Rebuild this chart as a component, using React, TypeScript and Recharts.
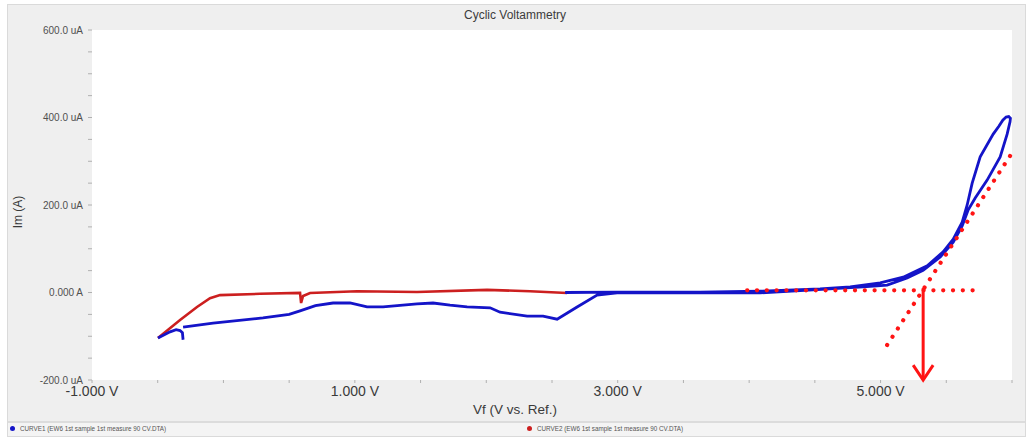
import React from 'react';
import { LineChart, Line, XAxis, YAxis, CartesianGrid } from 'recharts';

// ---- axis ticks ----
const xTicks = [-1, -0.5, 0, 0.5, 1, 1.5, 2, 2.5, 3, 3.5, 4, 4.5, 5, 5.5, 6];
const xLabeled = [-1, 1, 3, 5];
const yTicks = [-200, -150, -100, -50, 0, 50, 100, 150, 200, 250, 300, 350, 400, 450, 500, 550, 600];
const yLabels: Record<string, string> = { '-200': '-200.0 uA', '0': '0.000 A', '200': '200.0 uA', '400': '400.0 uA', '600': '600.0 uA' };

// ---- CURVE1 (blue): start hook ----
const blueHookV = [-0.307, -0.312, -0.330, -0.360, -0.406, -0.498];
const blueHookI = [-108, -92, -87, -85, -90, -104];

// ---- CURVE1 (blue): main sweep ----
const blueV = [
  -0.307, -0.079, 0.301, 0.500, 0.583, 0.700, 0.834, 0.963, 1.093, 1.215, 1.473, 1.595, 1.724, 1.854,
  2.029, 2.105, 2.311, 2.432, 2.539, 2.691, 2.843, 2.995, 3.627, 4.084, 4.487, 4.868, 5.050, 5.202,
  5.324, 5.454, 5.553, 5.621, 5.667, 5.720, 5.811, 5.910, 5.963, 5.985, 5.988,
  5.975, 5.955, 5.930, 5.900, 5.857, 5.758, 5.697, 5.659, 5.621, 5.553, 5.476, 5.355, 5.172, 4.997, 4.769, 4.540,
  4.084, 3.627, 2.995, 2.600,
];
const blueI = [
  -79, -70, -58, -50, -42, -30, -24, -24, -33, -33, -26, -24, -29, -33,
  -35, -45, -54, -54, -61, -33, -6, -1, -1, -1, 6, 13, 17, 33,
  51, 81, 115, 152, 189, 216, 257, 310, 362, 390, 398,
  402, 401, 394, 380, 362, 310, 250, 200, 161, 122, 93, 61, 35, 22, 13, 8,
  3, 1, 1, 0,
];

// ---- CURVE2 (red) ----
const redV = [-0.498, -0.330, -0.201, -0.102, -0.026, 0.279, 0.583, 0.591, 0.606, 0.659, 1.017, 1.473, 2.006, 2.333, 2.615];
const redI = [-104, -63, -33, -13, -6, -3, -1, -24, -8, -1, 3, 1, 6, 3, -1];

// ---- annotation (onset construction) ----
const baseLineV = [3.985, 5.773];
const baseLineI = [5, 5];
const tangentV = [5.05, 6.0];
const tangentI = [-120, 319];
const arrowShaftV = [5.324, 5.324];
const arrowShaftI = [10, -200];
const arrowHeadV = [5.248, 5.324, 5.400];
const arrowHeadI = [-166, -200, -166];

const zip = (v: number[], i: number[]) => v.map((x, k) => ({ v: x, i: i[k] }));

const blueHook = zip(blueHookV, blueHookI);
const blueMain = zip(blueV, blueI);
const red = zip(redV, redI);
const baseLine = zip(baseLineV, baseLineI);
const tangent = zip(tangentV, tangentI);
const arrowShaft = zip(arrowShaftV, arrowShaftI);
const arrowHead = zip(arrowHeadV, arrowHeadI);

const FONT = '"Liberation Sans", Arial, sans-serif';
const BLUE = '#1414c8';
const RED = '#cc1f1f';
const ANN = '#ff1414';

export default function App() {
  return (
    <div style={{ position: 'absolute', left: 0, top: 0, width: 1030, height: 441, background: '#ffffff', fontFamily: FONT, overflow: 'hidden' }}>
      {/* panel */}
      <div style={{ position: 'absolute', left: 7, top: 4, width: 1019, height: 433, background: '#efefef', border: '1px solid #dadada', boxSizing: 'border-box' }} />
      {/* title */}
      <div style={{ position: 'absolute', left: 0, top: 8, width: 1030, textAlign: 'center', fontSize: 12, color: '#3c3c3c' }}>Cyclic Voltammetry</div>
      {/* legend strip */}
      <div style={{ position: 'absolute', left: 8, top: 421, width: 1017, height: 15, background: '#f4f4f4', borderTop: '2px solid #dcdcdc', boxSizing: 'border-box' }} />
      <div style={{ position: 'absolute', left: 0, top: 0, width: 1030, height: 441 }}>
        <LineChart width={1030} height={441} margin={{ top: 30, right: 18, bottom: 31, left: 12 }}>
          <CartesianGrid horizontal={false} vertical={false} fill="#ffffff" stroke="none" />
          <XAxis
            dataKey="v"
            type="number"
            domain={[-1, 6]}
            ticks={xTicks}
            interval={0}
            height={30}
            axisLine={false}
            tickSize={3}
            tickMargin={3}
            tickLine={{ stroke: '#b0b0b0' }}
            tick={{ fontSize: 14, fill: '#3a3a3a', fontFamily: FONT }}
            tickFormatter={(x: number) => (xLabeled.includes(x) ? `${x.toFixed(3)} V` : '')}
          />
          <YAxis
            dataKey="i"
            type="number"
            domain={[-200, 600]}
            ticks={yTicks}
            interval={0}
            width={80}
            axisLine={false}
            tickSize={4}
            tickMargin={5}
            tickLine={{ stroke: '#b0b0b0' }}
            tick={{ fontSize: 10, fill: '#505050', fontFamily: FONT }}
            tickFormatter={(y: number) => yLabels[String(y)] ?? ''}
          />
          <Line data={red} dataKey="i" type="linear" stroke={RED} strokeWidth={2.6} dot={false} isAnimationActive={false} />
          <Line data={blueHook} dataKey="i" type="linear" stroke={BLUE} strokeWidth={2.8} dot={false} isAnimationActive={false} />
          <Line data={blueMain} dataKey="i" type="linear" stroke={BLUE} strokeWidth={2.8} dot={false} isAnimationActive={false} />
          <Line data={baseLine} dataKey="i" type="linear" stroke={ANN} strokeWidth={4.2} strokeDasharray="0.1 9.7" strokeLinecap="round" dot={false} isAnimationActive={false} />
          <Line data={tangent} dataKey="i" type="linear" stroke={ANN} strokeWidth={4.2} strokeDasharray="0.1 9.7" strokeLinecap="round" dot={false} isAnimationActive={false} />
          <Line data={arrowShaft} dataKey="i" type="linear" stroke={ANN} strokeWidth={3} dot={false} isAnimationActive={false} />
          <Line data={arrowHead} dataKey="i" type="linear" stroke={ANN} strokeWidth={3} strokeLinejoin="miter" dot={false} isAnimationActive={false} />
        </LineChart>
      </div>
      {/* axis titles */}
      <div style={{ position: 'absolute', left: 0, top: 402, width: 1030, textAlign: 'center', fontSize: 13.5, color: '#3a3a3a' }}>Vf (V vs. Ref.)</div>
      <div style={{ position: 'absolute', left: 18, top: 212, transform: 'translate(-50%, -50%) rotate(-90deg)', fontSize: 12, color: '#3a3a3a', whiteSpace: 'nowrap' }}>Im (A)</div>
      {/* legend */}
      <div style={{ position: 'absolute', left: 10, top: 425, display: 'flex', alignItems: 'center', fontSize: 6.3, color: '#555', whiteSpace: 'nowrap' }}>
        <span style={{ display: 'inline-block', width: 5, height: 5, borderRadius: 3, background: BLUE, marginRight: 5 }} />
        CURVE1 (EW6 1st sample 1st measure 90 CV.DTA)
      </div>
      <div style={{ position: 'absolute', left: 527, top: 425, display: 'flex', alignItems: 'center', fontSize: 6.3, color: '#555', whiteSpace: 'nowrap' }}>
        <span style={{ display: 'inline-block', width: 5, height: 5, borderRadius: 3, background: RED, marginRight: 5 }} />
        CURVE2 (EW6 1st sample 1st measure 90 CV.DTA)
      </div>
    </div>
  );
}
